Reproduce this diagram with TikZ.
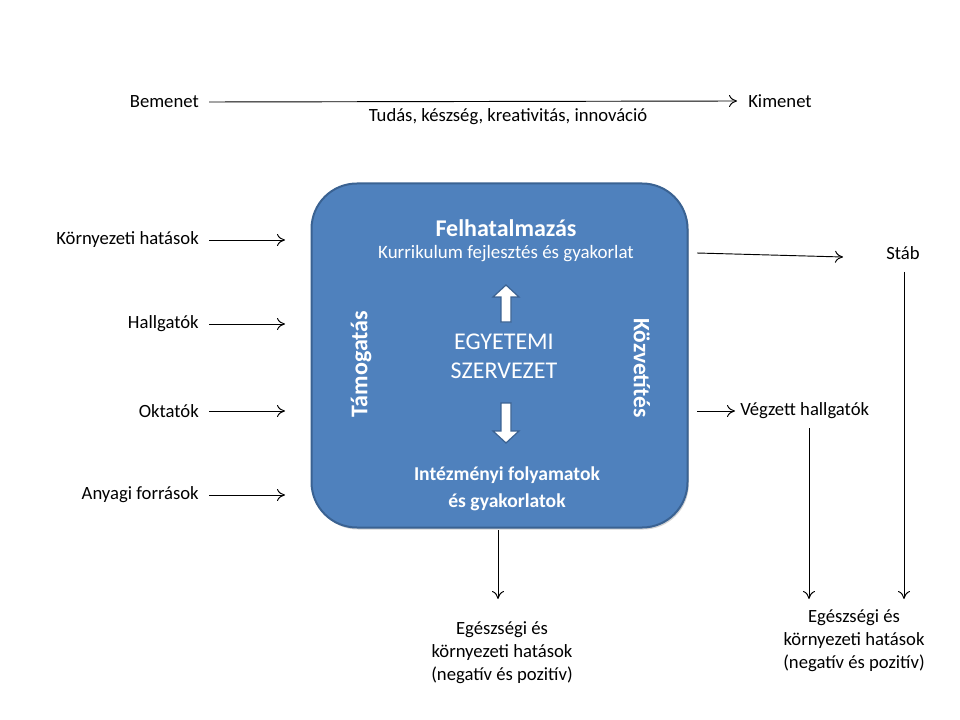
\documentclass[tikz,border=0pt]{standalone}
\usepackage{fontspec}
\setmainfont{Carlito}
\usetikzlibrary{arrows.meta,shadows}
\definecolor{boxfill}{HTML}{4F81BD}
\definecolor{boxline}{HTML}{3A6292}
\begin{document}
\begin{tikzpicture}[x=0.75pt,y=-0.75pt,
  lbl/.style={inner sep=0pt,font=\fontsize{14}{17.2}\selectfont,align=center},
  wlbl/.style={inner sep=0pt,text=white,align=center},
  conn/.style={draw=black,line width=0.7pt,-{To[length=6pt,width=9pt]}},
  blk/.style={fill=white,draw=boxline,line width=0.9pt,line join=miter}]
\useasboundingbox (0,0) rectangle (960,720);
% main box
\node[draw=boxline,fill=boxfill,line width=1.5pt,rounded corners=34pt,minimum width=376*0.75pt,minimum height=344*0.75pt,inner sep=0pt,
  drop shadow={shadow xshift=1pt,shadow yshift=-1.5pt,opacity=0.35}] (box) at (499.5,355.5) {};
% top line
\node[lbl,anchor=east] (in) at (199,102) {Bemenet};
\node[lbl,anchor=west] (out) at (748,101) {Kimenet};
\coordinate (inr) at (209,102);
\coordinate (outl) at (737,101);
\draw[conn] (inr) -- (outl);
\node[lbl] (kn) at (508,117) {Tudás, készség, kreativitás, innováció};
% left inputs
\node[lbl,anchor=east] (k) at (199,240) {Környezeti hatások};
\node[lbl,anchor=east] (h) at (199,324) {Hallgatók};
\node[lbl,anchor=east] (o) at (199,411) {Oktatók};
\node[lbl,anchor=east] (a) at (199,495) {Anyagi források};
\coordinate (kf) at (209,240);
\coordinate (hf) at (209,324);
\coordinate (of) at (209,411);
\coordinate (af) at (209,495);
\coordinate (kt) at (285,240);
\coordinate (ht) at (285,324);
\coordinate (ot) at (285,411);
\coordinate (at) at (285,495);
\draw[conn] (kf) -- (kt);
\draw[conn] (hf) -- (ht);
\draw[conn] (of) -- (ot);
\draw[conn] (af) -- (at);
% inside texts
\node[wlbl,font=\fontsize{18}{21}\selectfont\bfseries] (felh) at (506,228) {Felhatalmazás};
\node[wlbl,font=\fontsize{14.2}{17}\selectfont] (kurr) at (506,254) {Kurrikulum fejlesztés és gyakorlat};
\node[wlbl,font=\fontsize{18}{21.5}\selectfont] (egy) at (504,356) {EGYETEMI\\SZERVEZET};
\node[wlbl,font=\fontsize{14.7}{20.5}\selectfont\bfseries] (intez) at (507,489) {Intézményi folyamatok\\és gyakorlatok};
\node[wlbl,font=\fontsize{18}{21}\selectfont\bfseries,rotate=90] (tam) at (361,364) {Támogatás};
\node[wlbl,font=\fontsize{17.6}{21}\selectfont\bfseries,rotate=-90] (koz) at (642,368) {Közvetítés};
% block arrows
\draw[blk] (506,285) -- (519,297) -- (511,297) -- (511,322) -- (501,322) -- (501,297) -- (493,297) -- cycle;
\draw[blk] (506,443) -- (519,431) -- (511,431) -- (511,403) -- (501,403) -- (501,431) -- (493,431) -- cycle;
% right outputs
\node[lbl] (stab) at (903,253) {Stáb};
\node[lbl,anchor=west] (veg) at (740,411) {Végzett hallgatók};
\coordinate (sf) at (697,253);
\coordinate (st) at (843,257);
\draw[conn] (sf) -- (st);
\coordinate (vf) at (697,411);
\coordinate (vt) at (735,411);
\draw[conn] (vf) -- (vt);
% bottom outputs
\node[lbl] (e1) at (502,653) {Egészségi és\\környezeti hatások\\(negatív és pozitív)};
\node[lbl] (e2) at (854,641) {Egészségi és\\környezeti hatások\\(negatív és pozitív)};
\coordinate (bf) at (498,530);
\coordinate (bt) at (498,599);
\draw[conn] (bf) -- (bt);
\coordinate (vd) at (809,428);
\coordinate (vdt) at (809,599);
\draw[conn] (vd) -- (vdt);
\coordinate (sd) at (904,272);
\coordinate (sdt) at (904,599);
\draw[conn] (sd) -- (sdt);
\end{tikzpicture}
\end{document}
